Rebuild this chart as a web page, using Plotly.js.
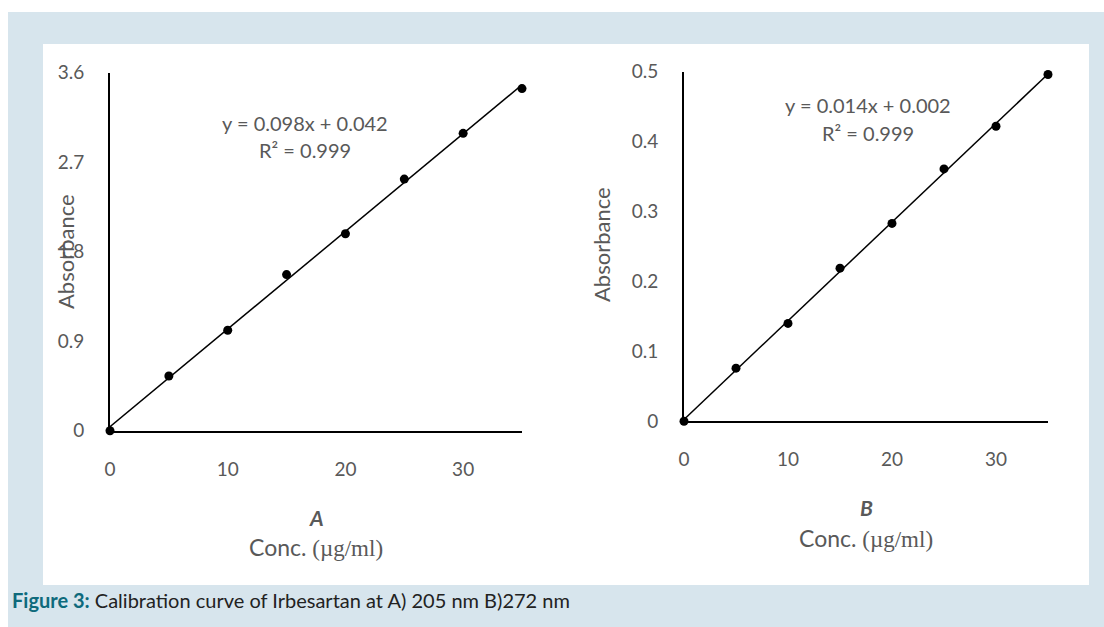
<!DOCTYPE html>
<html>
<head>
<meta charset="utf-8">
<script src="https://cdn.plot.ly/plotly-3.0.1.min.js"></script>
<style>html,body{margin:0;padding:0;background:#fff;}#chart{width:1104px;height:627px;}</style>
</head>
<body>
<div id="chart"></div>
<script>
// Data
var concA = [0, 5, 10, 15, 20, 25, 30, 35];
var absA = [0, 0.55, 1.01, 1.57, 1.98, 2.53, 2.99, 3.44];
var concB = [0, 5, 10, 15, 20, 25, 30, 35];
var absB = [0, 0.076, 0.140, 0.219, 0.283, 0.361, 0.422, 0.496];
var tickValsA = [0, 0.9, 1.8, 2.7, 3.6];
var tickTextA = ["0", "0.9", "1.8", "2.7", "3.6"];
var tickValsB = [0, 0.1, 0.2, 0.3, 0.4, 0.5];
var tickTextB = ["0", "0.1", "0.2", "0.3", "0.4", "0.5"];
var xTicks = [0, 10, 20, 30];
var eqA = ["y = 0.098x + 0.042", "R² = 0.999"];
var eqB = ["y = 0.014x + 0.002", "R² = 0.999"];
var panelLabels = ["A", "B"];
var xTitle = "Conc. ";
var xUnit = "(µg/ml)";
var yTitle = "Absorbance";
var captionBold = "Figure 3:";
var captionText = " Calibration curve of Irbesartan at A) 205 nm B)272 nm";

function fit(x, y) {
  var n = x.length, sx = 0, sy = 0, sxx = 0, sxy = 0;
  for (var i = 0; i < n; i++) { sx += x[i]; sy += y[i]; sxx += x[i]*x[i]; sxy += x[i]*y[i]; }
  var m = (n*sxy - sx*sy) / (n*sxx - sx*sx);
  var b = (sy - m*sx) / n;
  var x0 = x[0], x1 = x[n-1];
  return {x: [x0, x1], y: [m*x0 + b, m*x1 + b]};
}
var fA = fit(concA, absA), fB = fit(concB, absB);

var W = 1104, H = 627;
function px(x) { return x / W; }
function py(y) { return 1 - y / H; }

var gray = "#595959";
var font = "Lato, 'Open Sans', sans-serif";

var traces = [
  {x: fA.x, y: fA.y, mode: "lines", line: {color: "#000", width: 1.5}, xaxis: "x", yaxis: "y", cliponaxis: false, hoverinfo: "skip"},
  {x: concA, y: absA, mode: "markers", marker: {color: "#000", size: 9}, xaxis: "x", yaxis: "y", cliponaxis: false},
  {x: fB.x, y: fB.y, mode: "lines", line: {color: "#000", width: 1.5}, xaxis: "x2", yaxis: "y2", cliponaxis: false, hoverinfo: "skip"},
  {x: concB, y: absB, mode: "markers", marker: {color: "#000", size: 9}, xaxis: "x2", yaxis: "y2", cliponaxis: false}
];

function xax(d0, d1, anchor) {
  return {domain: [px(d0), px(d1)], range: [0, 35], anchor: anchor, tickvals: xTicks,
    showgrid: false, zeroline: false, showline: true, linecolor: "#000", linewidth: 2,
    ticks: "", ticklabelstandoff: 20, tickfont: {family: font, size: 19, color: gray}, fixedrange: true};
}
function yax(d0, d1, range, tv, tt, anchor) {
  return {domain: [py(d0), py(d1)], range: range, anchor: anchor, tickvals: tv, ticktext: tt,
    showgrid: false, zeroline: false, showline: true, linecolor: "#000", linewidth: 2,
    ticks: "", ticklabelstandoff: 20, tickfont: {family: font, size: 19, color: gray}, fixedrange: true};
}

var ann = [];
function txt(x, y, t, size, extra) {
  var a = {xref: "paper", yref: "paper", x: px(x), y: py(y), text: t, showarrow: false,
    xanchor: "center", yanchor: "middle", font: {family: font, size: size, color: gray}};
  for (var k in extra) a[k] = extra[k];
  ann.push(a);
}
txt(305, 123, eqA[0], 20);
txt(305, 150, eqA[1], 20);
txt(868, 105, eqB[0], 20);
txt(868, 133, eqB[1], 20);
txt(65, 252, yTitle, 22, {textangle: -90});
txt(601, 245, yTitle, 22, {textangle: -90});
txt(316, 517, "<b><i>" + panelLabels[0] + "</i></b>", 21);
txt(866, 507, "<b><i>" + panelLabels[1] + "</i></b>", 21);
txt(316, 547, xTitle + "<span style='font-family:\"Liberation Serif\",serif'>" + xUnit + "</span>", 23);
txt(866, 538, xTitle + "<span style='font-family:\"Liberation Serif\",serif'>" + xUnit + "</span>", 23);
ann.push({xref: "paper", yref: "paper", x: px(10), y: py(600), xanchor: "left", yanchor: "middle", showarrow: false,
  text: "<b><span style='color:#0e6a7c'>" + captionBold + "</span></b>" + captionText,
  font: {family: "Lato, 'Open Sans', sans-serif", size: 20, color: "#222"}});

var layout = {
  width: W, height: H, margin: {l: 0, r: 0, t: 0, b: 0},
  paper_bgcolor: "#ffffff", plot_bgcolor: "rgba(0,0,0,0)", showlegend: false,
  xaxis: xax(110, 522, "y"),
  yaxis: yax(430.7, 72.7, [0, 3.6], tickValsA, tickTextA, "x"),
  xaxis2: xax(684, 1048, "y2"),
  yaxis2: yax(421.3, 71.7, [0, 0.5], tickValsB, tickTextB, "x2"),
  shapes: [
    {type: "rect", xref: "paper", yref: "paper", x0: px(8), x1: px(1104), y0: py(627), y1: py(12),
      fillcolor: "#d7e5ed", line: {width: 0}, layer: "below"},
    {type: "rect", xref: "paper", yref: "paper", x0: px(43), x1: px(1089), y0: py(585), y1: py(44),
      fillcolor: "#ffffff", line: {width: 0}, layer: "below"}
  ],
  annotations: ann
};

Plotly.newPlot("chart", traces, layout, {staticPlot: true, displayModeBar: false});
</script>
</body>
</html>
